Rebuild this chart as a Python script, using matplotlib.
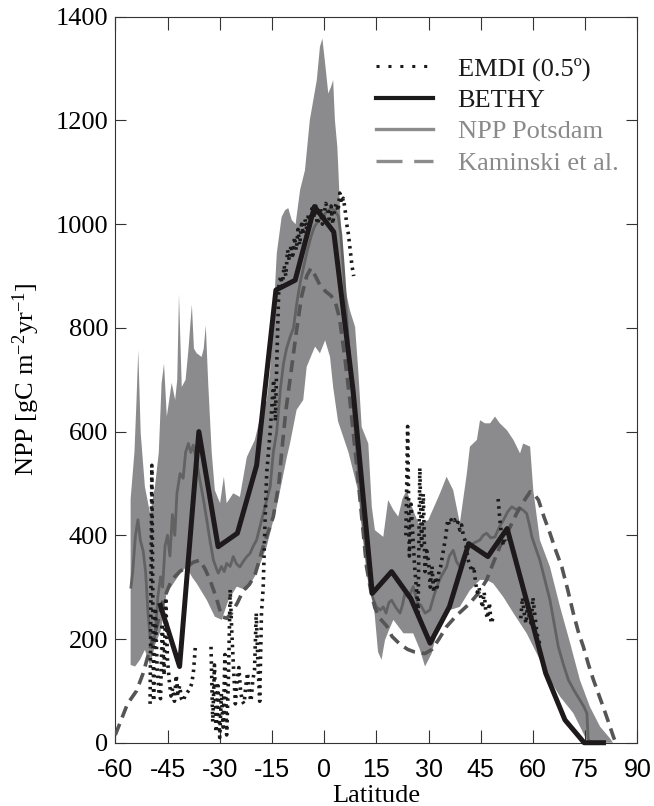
import numpy as np
import matplotlib
matplotlib.use("Agg")
import matplotlib.pyplot as plt
from matplotlib.lines import Line2D

plt.rcParams['font.family'] = ['Liberation Serif', 'DejaVu Serif']
plt.rcParams['mathtext.fontset'] = 'custom'
plt.rcParams['mathtext.rm'] = 'Liberation Serif'
plt.rcParams['mathtext.it'] = 'Liberation Serif:italic'
plt.rcParams['axes.unicode_minus'] = False

# ---- data ----
# BETHY (T21 grid)
bethy_lat = [-47.06, -41.53, -35.99, -30.46, -24.92, -19.39, -13.85, -8.31, -2.77,
             2.77, 8.31, 13.85, 19.39, 24.92, 30.46, 35.99, 41.53, 47.06, 52.60,
             58.13, 63.67, 69.20, 74.73, 80.27]
bethy_npp = [265, 147, 600, 378, 404, 535, 873, 892, 1034,
             985, 680, 288, 330, 278, 192, 262, 384, 359, 413,
             275, 134, 44, 0, 0]

# NPP Potsdam intercomparison mean
pot_lat = [-55.5, -55.0, -54.2, -53.5, -52.8, -52.0, -51.3, -50.6, -50.0, -49.3,
           -48.5, -47.8, -47.0, -46.4, -45.7, -45.0, -44.3, -43.6, -42.9, -42.3,
           -41.4, -40.5, -39.8, -39.0, -38.3, -37.6, -36.6, -35.7, -34.7, -33.7,
           -32.8, -31.8, -30.9, -30.4, -29.5, -28.7, -28.0, -27.0, -26.1, -25.2,
           -24.2, -23.2, -22.2, -21.3, -20.3, -19.4, -18.5, -17.5, -16.5, -15.5,
           -14.6, -13.6, -12.6, -11.7, -10.8, -9.8, -8.8, -7.8, -6.8, -5.8,
           -4.8, -3.8, -2.8, -1.8, -0.8, 0.2, 1.2, 2.2, 3.2, 4.1,
           4.8, 5.5, 6.2, 7.0, 7.8, 8.6, 9.4, 10.2, 11.0, 11.8,
           12.6, 13.4, 14.2, 15.0, 16.1, 17.0, 17.8, 18.6, 19.4, 20.5,
           21.8, 22.5, 23.2, 24.3, 25.6, 26.8, 27.8, 29.0, 30.4, 31.4,
           32.4, 33.6, 35.2, 36.0, 37.1, 38.0, 39.0, 40.0, 41.0, 41.9,
           43.0, 44.8, 45.7, 46.7, 47.9, 49.1, 50.3, 51.5, 52.7, 53.9,
           55.1, 56.3, 57.3, 58.2, 59.0, 59.7, 60.8, 62.0, 63.4, 64.9,
           66.1, 67.3, 68.8, 70.2, 71.9, 73.5, 74.6, 75.5, 75.9, 77.0, 78.0]
pot_npp = [300, 330, 400, 430, 390, 370, 330, 250, 204, 190,
           210, 280, 320, 300, 380, 400, 360, 440, 400, 480,
           519, 510, 560, 577, 560, 574, 540, 507, 470, 429,
           390, 352, 335, 327, 340, 330, 346, 340, 359, 345,
           339, 350, 359, 365, 380, 391, 415, 442, 468, 494,
           560, 600, 680, 730, 760, 782, 800, 850, 890, 920,
           950, 975, 995, 1005, 1012, 1020, 1027, 1030, 1025, 1015,
           980, 920, 850, 770, 700, 630, 560, 490, 430, 380,
           330, 295, 275, 262, 256, 262, 250, 270, 275, 262,
           250, 265, 288, 280, 301, 270, 265, 250, 256, 280,
           301, 320, 339, 360, 371, 350, 339, 360, 372, 378,
           385, 391, 400, 404, 395, 397, 415, 429, 445, 455,
           450, 452, 448, 442, 420, 397, 375, 352, 315, 275,
           230, 185, 150, 121, 100, 82, 70, 57, 5, 0, 0]

# envelope of the Potsdam models
band_hi_lat = [-55.6, -54.5, -53.9, -53.4, -52.7, -51.5, -50.0, -48.6, -47.5, -46.7,
               -46.0, -45.2, -43.8, -42.8, -42.2, -41.7, -40.9, -39.8, -39.0, -38.0,
               -37.4, -36.6, -35.2, -34.6, -34.0, -33.3, -32.3, -31.4, -29.9, -28.8,
               -28.0, -26.1, -24.2, -22.2, -19.9, -17.9, -16.5, -15.5, -14.6, -13.6,
               -12.2, -11.2, -10.3, -9.3, -8.2, -6.9, -5.5, -4.1, -2.1, -1.2,
               -0.5, 0.3, 1.2, 2.0, 2.6, 3.1, 3.8, 4.1, 5.1, 6.0,
               7.4, 8.9, 9.8, 10.8, 12.7, 13.7, 14.6, 17.0, 18.4, 19.9,
               21.3, 22.5, 23.7, 25.5, 27.1, 29.9, 33.3, 35.2, 37.1, 39.0,
               41.0, 41.9, 43.9, 44.8, 46.2, 47.7, 49.1, 50.5, 52.5, 54.4,
               56.3, 57.2, 59.2, 60.1, 62.0, 64.9, 67.8, 70.7, 73.5, 76.4,
               79.3, 82.2, 83.0]
band_hi = [470, 560, 661, 757, 597, 494, 442, 494, 560, 693,
           731, 629, 694, 661, 700, 865, 686, 700, 757, 845,
           760, 751, 744, 760, 805, 693, 560, 487, 462, 513,
           462, 481, 474, 551, 584, 640, 660, 720, 815, 944,
           1014, 1027, 1031, 1008, 1000, 1066, 1104, 1201, 1278, 1342,
           1358, 1310, 1252, 1265, 1278, 1201, 1149, 1104, 944, 879,
           834, 802, 719, 609, 577, 455, 410, 397, 468, 449,
           436, 470, 487, 450, 423, 429, 481, 513, 487, 423,
           519, 571, 584, 622, 616, 616, 629, 616, 603, 584,
           558, 577, 571, 487, 391, 339, 262, 192, 121, 69,
           31, 8, 0]
band_lo_lat = [-55.6, -54.3, -52.9, -51.5, -50.0, -48.5, -47.0, -46.0, -45.2, -44.0,
               -42.5, -41.0, -39.5, -38.0, -36.6, -33.7, -31.4, -29.4, -27.5, -25.1,
               -22.2, -19.4, -16.5, -13.6, -10.7, -9.8, -7.9, -6.0, -5.0, -2.6,
               -1.2, 0.3, 1.7, 2.6, 4.0, 5.5, 7.0, 8.5, 10.3, 12.2,
               13.7, 14.5, 15.5, 16.5, 17.5, 18.5, 19.9, 22.8, 25.6, 27.5,
               29.0, 30.9, 33.3, 36.2, 39.0, 41.9, 44.8, 46.7, 48.6, 51.5,
               54.4, 58.2, 62.0, 64.9, 67.8, 71.6, 74.0, 75.8]
band_lo = [150, 147, 160, 179, 150, 190, 215, 250, 294, 300,
           315, 330, 339, 320, 307, 275, 243, 237, 275, 301,
           294, 327, 378, 455, 551, 577, 642, 661, 725, 764,
           751, 776, 744, 686, 620, 590, 560, 520, 470, 404,
           330, 250, 175, 160, 198, 215, 237, 211, 211, 180,
           147, 172, 237, 256, 262, 294, 314, 314, 307, 281,
           250, 211, 160, 121, 89, 57, 25, 0]

# Kaminski et al.
kam_lat = [-60.0, -56.5, -53.9, -52.0, -50.3, -48.6, -46.2, -43.8, -41.5, -39.5,
           -37.6, -35.7, -34.2, -32.8, -31.0, -29.4, -28.0, -26.6, -24.9, -23.2,
           -21.5, -19.9, -17.5, -14.6, -13.0, -12.2, -11.0, -9.8, -7.9, -6.5,
           -5.0, -3.8, -2.5, -1.0, 0.5, 2.0, 3.2, 4.4, 5.2, 6.0,
           7.4, 9.4, 10.8, 12.2, 13.5, 14.6, 16.0, 18.0, 19.5, 21.8,
           24.0, 26.0, 29.0, 31.0, 33.0, 35.2, 38.0, 41.9, 44.5, 46.7,
           48.5, 50.5, 53.0, 55.3, 57.3, 59.2, 60.3, 61.6, 63.2, 64.9,
           66.6, 68.3, 70.0, 71.6, 73.0, 74.5, 76.0, 77.4, 78.8, 80.2,
           81.7, 83.1, 83.8]
kam_npp = [15, 75, 100, 134, 175, 211, 275, 314, 330, 339,
           348, 352, 335, 314, 280, 243, 240, 250, 270, 294,
           305, 323, 378, 436, 500, 560, 640, 700, 796, 860,
           900, 915, 900, 880, 870, 862, 850, 820, 780, 740,
           661, 532, 436, 339, 290, 260, 240, 225, 205, 190,
           180, 175, 172, 180, 200, 224, 245, 269, 290, 314,
           345, 378, 410, 442, 465, 484, 480, 468, 435, 404,
           370, 339, 295, 250, 215, 185, 150, 121, 95, 69,
           40, 12, 0]

# EMDI (0.5 degree), segments separated by data gaps
emdi_a_lat = np.arange(-50.0, -36.9, 0.5)
emdi_a = [75, 535, 80, 260, 150, 100, 85, 230, 130, 280,
          160, 120, 90, 105, 80, 130, 95, 110, 85, 80,
          90, 95, 100, 105, 115, 140, 185]
emdi_b_lat = np.arange(-32.5, 8.6, 0.5)
emdi_b = [185, 40, 150, 20, 110, 10, 95, 30, 170, 15,
          120, 295, 210, 140, 75, 120, 145, 100, 80, 75,
          110, 135, 95, 80, 120, 140, 250, 150, 80, 250,
          300, 420, 520, 560, 600, 650, 700, 620, 760, 880,
          900, 880, 920, 900, 950, 930, 960, 940, 975, 950,
          990, 960, 1000, 980, 1010, 990, 1020, 1000, 1030, 1010,
          1040, 1000, 1010, 1030, 1000, 1020, 1040, 1030, 1010, 1035,
          1000, 1030, 1040, 1025, 1060, 1040, 1050, 1030, 1000, 980,
          950, 920, 900]
emdi_c_lat = np.arange(23.5, 48.6, 0.5)
emdi_c = [400, 610, 360, 460, 400, 340, 300, 250, 530, 380,
          480, 330, 370, 350, 300, 340, 290, 320, 300, 330,
          340, 360, 380, 400, 430, 420, 430, 425, 430, 420,
          425, 410, 420, 400, 390, 370, 350, 340, 330, 340,
          310, 290, 300, 280, 260, 290, 250, 240, 270, 230, 240]
emdi_d_lat = np.arange(50.0, 52.6, 0.5)
emdi_d = [470, 430, 400, 380, 410, 390]
emdi_e_lat = np.arange(56.5, 62.1, 0.5)
emdi_e = [240, 280, 250, 230, 270, 240, 230, 280, 250, 220, 200, 190]

labels = ['EMDI (0.5º)', 'BETHY', 'NPP Potsdam', 'Kaminski et al.']

# ---- figure ----
fig = plt.figure(figsize=(6.54, 8.06), dpi=100)
ax = fig.add_axes([0.1763, 0.0785, 0.7982, 0.9007])

band_x = np.concatenate([band_hi_lat, band_lo_lat[::-1]])
band_y = np.concatenate([band_hi, band_lo[::-1]])
ax.fill(band_x, band_y, color='#8b8b8d', lw=0, zorder=1)

ax.plot(pot_lat, pot_npp, color='#626262', lw=2.0, zorder=2)
ax.plot(kam_lat, kam_npp, color='#555555', lw=2.6, ls=(0, (3.3, 1.9)), zorder=3)

emdi_lat = np.concatenate([emdi_a_lat, [np.nan], emdi_b_lat, [np.nan], emdi_c_lat,
                           [np.nan], emdi_d_lat, [np.nan], emdi_e_lat])
emdi_npp = np.concatenate([emdi_a, [np.nan], emdi_b, [np.nan], emdi_c,
                           [np.nan], emdi_d, [np.nan], emdi_e])
ax.plot(emdi_lat, emdi_npp, color='#1a1a1a', lw=2.6, ls=(0, (0.7, 1.3)), zorder=4)

ax.plot(bethy_lat, bethy_npp, color='#1e1a1b', lw=3.6, zorder=5, clip_on=False)

ax.set_xlim(-60, 90)
ax.set_ylim(0, 1400)
ax.set_xticks(range(-60, 91, 15))
ax.set_yticks(range(0, 1401, 200))
ax.tick_params(axis='both', direction='in', top=True, right=True,
               width=0.8, color='#333333')
ax.tick_params(axis='x', length=9.7, pad=11, labelsize=18)
ax.tick_params(axis='y', length=7.7, pad=5, labelsize=19)
for lab in ax.get_xticklabels():
    lab.set_fontfamily('Liberation Sans')
for sp in ax.spines.values():
    sp.set_linewidth(0.8)
    sp.set_color('#333333')

ax.set_xlabel('Latitude', fontsize=19, labelpad=2)
ax.set_ylabel(r'NPP [gC m$^{-2}$yr$^{-1}$]', fontsize=19)
ax.yaxis.set_label_coords(-0.14, 0.5)

handles = [Line2D([], [], color='#1a1a1a', lw=2.2, ls=(0, (1, 2.9))),
           Line2D([], [], color='#1a1a1a', lw=3.0),
           Line2D([], [], color='#8c8c8c', lw=2.4),
           Line2D([], [], color='#8c8c8c', lw=2.4, ls=(0, (7.8, 3.5)))]
leg = ax.legend(handles, labels, loc='upper left', bbox_to_anchor=(0.499, 0.945),
                frameon=False, fontsize=19, handlelength=2.15, handletextpad=0.95,
                labelspacing=0.3, borderaxespad=0, borderpad=0)
for txt, c in zip(leg.get_texts(), ['#1a1a1a', '#1a1a1a', '#8a8a8a', '#8a8a8a']):
    txt.set_color(c)

fig.savefig('out.png', dpi=100)
